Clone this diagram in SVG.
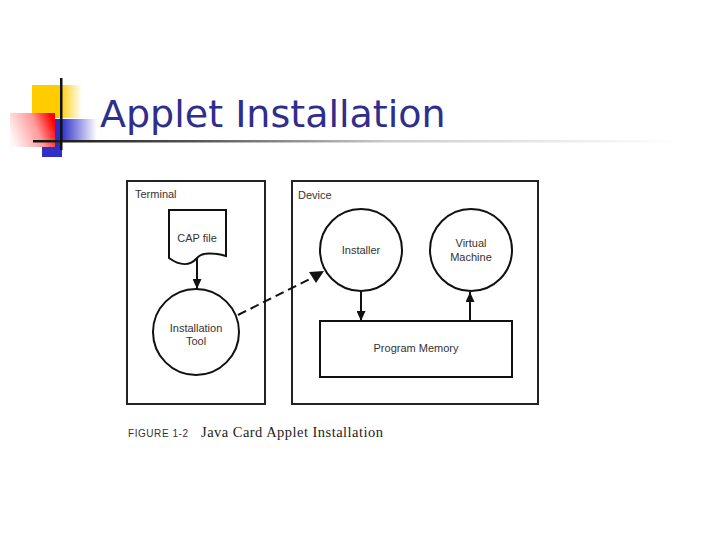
<svg xmlns="http://www.w3.org/2000/svg" width="720" height="540" viewBox="0 0 720 540">
<style>
.title{font-family:"DejaVu Sans",Verdana,sans-serif;font-size:38px;fill:#2E2E8C}
.lbl{font-family:"Liberation Sans",Arial,sans-serif;font-size:11px;fill:#333}
.mid{text-anchor:middle}
.box{fill:#fff;stroke:#222;stroke-width:2}
.shape{fill:#fff;stroke:#111;stroke-width:2}
.conn{stroke:#111;stroke-width:2;fill:none}
</style>
<defs>
<linearGradient id="gY" x1="0" y1="0" x2="1" y2="0"><stop offset="0.55" stop-color="#FFCC00"/><stop offset="1" stop-color="#FFCC00" stop-opacity="0"/></linearGradient>
<linearGradient id="gR" x1="0" y1="0.65" x2="1" y2="0.35"><stop offset="0" stop-color="#FF0000" stop-opacity="0.03"/><stop offset="0.6" stop-color="#FF0000" stop-opacity="0.4"/><stop offset="1" stop-color="#FF0000"/></linearGradient>
<linearGradient id="gB" x1="42" y1="0" x2="97" y2="0" gradientUnits="userSpaceOnUse"><stop offset="0.35" stop-color="#2F2FC8"/><stop offset="1" stop-color="#2F2FC8" stop-opacity="0"/></linearGradient>
<linearGradient id="gL" x1="33" y1="0" x2="680" y2="0" gradientUnits="userSpaceOnUse"><stop offset="0" stop-color="#111"/><stop offset="0.25" stop-color="#555"/><stop offset="0.55" stop-color="#ccc"/><stop offset="1" stop-color="#fff"/></linearGradient>
<marker id="ah" markerUnits="userSpaceOnUse" markerWidth="10" markerHeight="9" refX="10" refY="4.5" orient="auto"><path d="M0,0 L10,4.5 L0,9 Z" fill="#111"/></marker>
</defs>
<rect width="720" height="540" fill="#fff"/>
<g id="logo">
<rect x="32" y="85" width="50" height="33" fill="url(#gY)"/>
<rect x="42" y="119" width="55" height="22" fill="url(#gB)"/>
<rect x="42" y="141" width="20" height="16" fill="#2F2FC8"/>
<rect x="10" y="113" width="45" height="34" fill="#fff"/>
<rect x="10" y="113" width="45" height="34" fill="url(#gR)"/>
<rect x="33" y="140" width="647" height="2.5" fill="url(#gL)"/>
<rect x="60" y="78" width="2.5" height="72" fill="#111"/>
</g>
<text class="title" x="100" y="127">Applet Installation</text>
<g id="terminal"><rect class="box" x="127" y="181" width="138" height="223" stroke-width="1.5"/><text class="lbl" x="135" y="198" font-size="10.5">Terminal</text></g>
<g id="device"><rect class="box" x="292" y="181" width="246" height="223"/><text class="lbl" x="298" y="199" font-size="10.5">Device</text></g>
<g id="capfile"><path class="shape" d="M169,210 H226 V256 C214,253 202,252 197,258 C190,266 180,266 169,258 Z" stroke-width="1.5"/><text class="lbl mid" x="197" y="242" font-size="10.5">CAP file</text></g>
<g id="tool"><circle class="shape" cx="196" cy="332" r="43"/><text class="lbl mid" x="196" y="332">Installation</text><text class="lbl mid" x="196" y="345">Tool</text></g>
<g id="installer"><circle class="shape" cx="361" cy="250" r="41"/><text class="lbl mid" x="361" y="254">Installer</text></g>
<g id="vm"><circle class="shape" cx="471" cy="250" r="41"/><text class="lbl mid" x="471" y="247">Virtual</text><text class="lbl mid" x="471" y="261">Machine</text></g>
<g id="memory"><rect class="shape" x="320" y="321" width="192" height="56"/><text class="lbl mid" x="416" y="352">Program Memory</text></g>
<g id="connectors">
<line class="conn" x1="197" y1="258" x2="197" y2="289" marker-end="url(#ah)"/>
<line class="conn" x1="361" y1="291" x2="361" y2="321" marker-end="url(#ah)"/>
<line class="conn" x1="470" y1="321" x2="470" y2="292" marker-end="url(#ah)"/>
<line class="conn" x1="238" y1="315" x2="310" y2="279" stroke-width="3" stroke-dasharray="9,5"/>
<polygon points="309,272 324,271 316,283" fill="#111"/>
</g>
<g id="caption">
<text x="128" y="437" font-family="'Liberation Sans',Arial,sans-serif" font-size="10" fill="#333" textLength="60" lengthAdjust="spacing">FIGURE 1-2</text>
<text x="201" y="437" font-family="'Liberation Serif','Times New Roman',serif" font-size="14.5" fill="#222" textLength="182">Java Card Applet Installation</text>
</g>
</svg>
